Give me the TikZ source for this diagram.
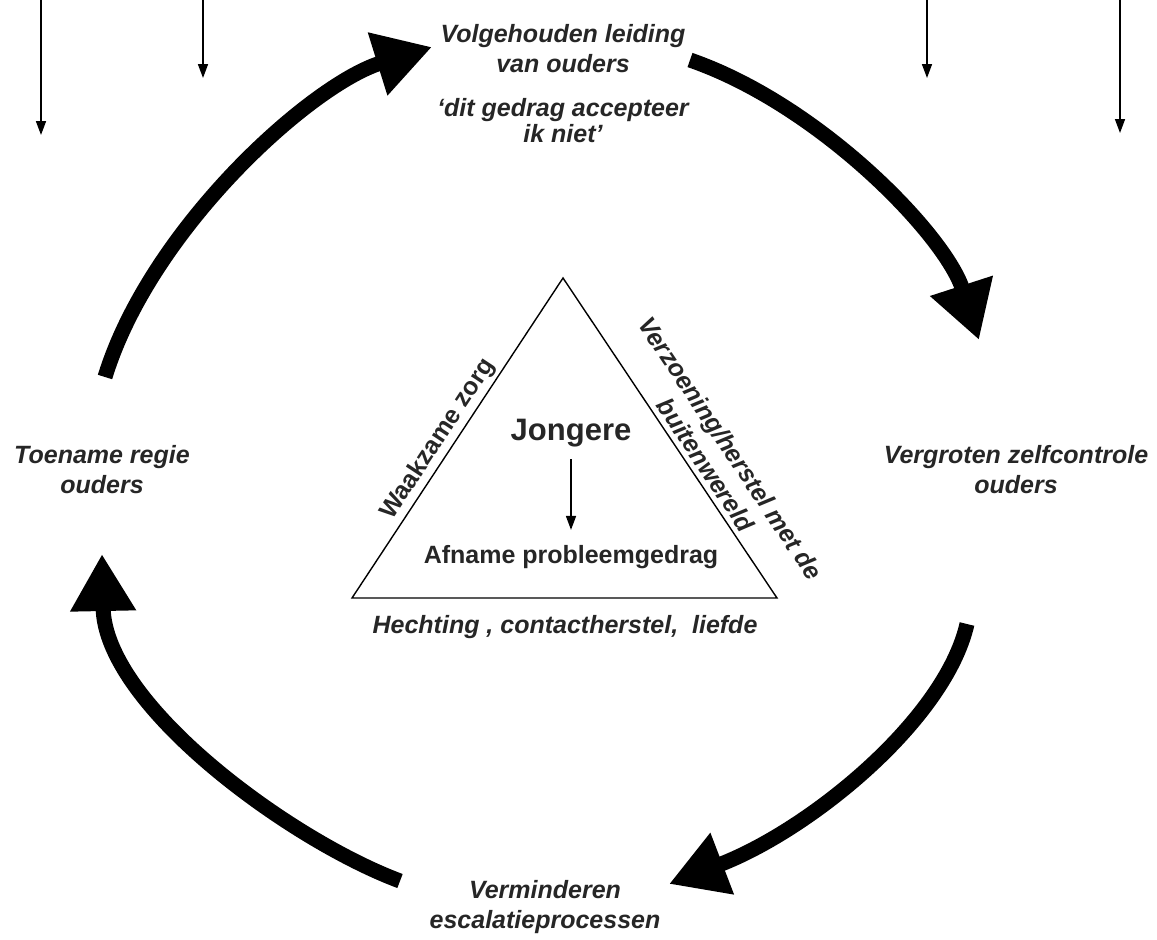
\documentclass[tikz,border=0pt]{standalone}
\usepackage{fontspec}
\setmainfont{Liberation Sans}
\usetikzlibrary{arrows.meta}

\begin{document}
\begin{tikzpicture}[x=0.5pt,y=-0.5pt]
	\tikzset{cyclelabel/.style={font=\fontsize{12.5}{15}\selectfont\bfseries\itshape,align=center,text=black!85}}
	\tikzset{cyclearrow/.style={line width=7.5pt,-{Triangle[length=28.5pt,width=31pt]}}}
	\tikzset{thinarrow/.style={line width=0.8pt,-{Triangle[length=7pt,width=5pt]}}}
	\useasboundingbox (0,0) rectangle (1157,939);
	% the four steps of the cycle
	\node[cyclelabel] (lead) at (563,49) {Volgehouden leiding\\van ouders};
	\node[cyclelabel,font=\fontsize{12.5}{13}\selectfont\bfseries\itshape] (quote) at (563,121) {‘dit gedrag accepteer\\ik niet’};
	\node[cyclelabel] (zelf) at (1016,470) {Vergroten zelfcontrole\\ouders};
	\node[cyclelabel] (escal) at (545,907) {Verminderen\\escalatieprocessen};
	\node[cyclelabel] (regie) at (102,470) {Toename regie\\ouders};
	% big arrows between the steps
	\coordinate (regie-out) at (105,377);
	\coordinate (lead-in) at (432,47);
	\coordinate (lead-out) at (690,60);
	\coordinate (zelf-in) at (979,340);
	\coordinate (zelf-out) at (967,624);
	\coordinate (escal-in) at (669,884);
	\coordinate (escal-out) at (400,881);
	\coordinate (regie-in) at (102,554);
	\draw[cyclearrow] (regie-out) .. controls (150,230) and (310,85) .. (lead-in);
	\draw[cyclearrow] (lead-out) .. controls (820,105) and (945,235) .. (zelf-in);
	\draw[cyclearrow] (zelf-out) .. controls (945,720) and (810,830) .. (escal-in);
	\draw[cyclearrow] (escal-out) .. controls (290,840) and (105,705) .. (regie-in);
	% arrows coming in from above
	\foreach \x/\y [count=\i] in {41/135,203/78,927/78,1120/133} {
		\coordinate (top\i) at (\x,0);
		\coordinate (tip\i) at (\x,\y);
		\draw[thinarrow] (top\i) -- (tip\i);
	}
	% triangle with the young person
	\coordinate (apex) at (563,278);
	\coordinate (left) at (352,598);
	\coordinate (right) at (777,598);
	\draw[line width=0.7pt] (left)
		-- node[pos=0.47,sloped,above,inner sep=1.5pt,font=\fontsize{12.5}{15}\selectfont\bfseries,text=black!85] (waak) {Waakzame zorg} (apex)
		-- node[pos=0.61,sloped,above,inner sep=2.5pt,align=center,font=\fontsize{12.5}{15}\selectfont\bfseries\itshape,text=black!85] (verz) {Verzoening/herstel met de\\buitenwereld} (right)
		-- cycle;
	\node[font=\fontsize{15.5}{18}\selectfont\bfseries,text=black!85,inner sep=0pt] (jong) at (571,433) {Jongere};
	\node[font=\fontsize{12.5}{15}\selectfont\bfseries,text=black!85,inner sep=0pt] (afname) at (571,557) {Afname probleemgedrag};
	\draw[thinarrow,shorten <=6pt,shorten >=7.5pt] (jong) -- (afname);
	\node[cyclelabel] (hecht) at (565,627) {Hechting , contactherstel,~ liefde};
\end{tikzpicture}
\end{document}
